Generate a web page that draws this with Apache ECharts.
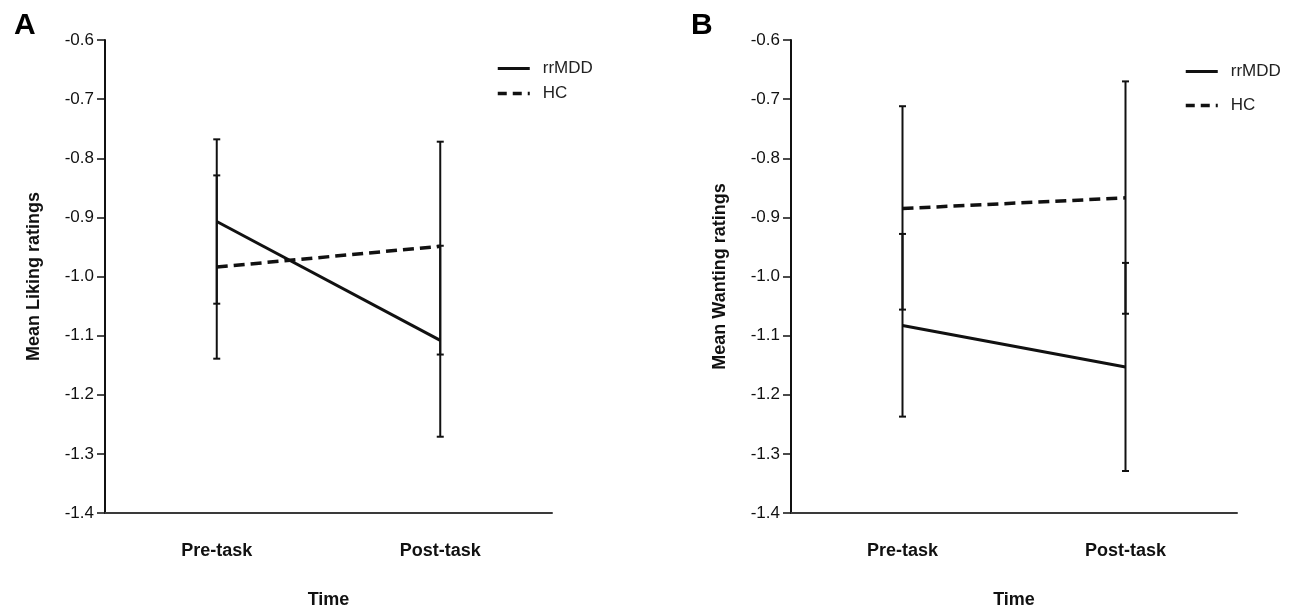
<!DOCTYPE html>
<html>
<head>
<meta charset="utf-8">
<script src="https://cdn.jsdelivr.net/npm/echarts@6/dist/echarts.min.js"></script>
<style>
html,body{margin:0;padding:0;background:#fff;}
#chart{width:1289px;height:614px;}
</style>
</head>
<body>
<div id="chart"></div>
<script>
const categories = ['Pre-task', 'Post-task'];
const groups = ['rrMDD', 'HC'];
const panelLetters = ['A', 'B'];
const yAxisNames = ['Mean Liking ratings', 'Mean Wanting ratings'];
const xAxisName = 'Time';

// Panel A: Liking
const likingRrMDD = [-0.907, -1.108];
const likingRrMDDLow = [-1.046, -1.271];
const likingRrMDDHigh = [-0.768, -0.948];
const likingHC = [-0.984, -0.949];
const likingHCLow = [-1.139, -1.132];
const likingHCHigh = [-0.829, -0.772];

// Panel B: Wanting
const wantingRrMDD = [-1.083, -1.153];
const wantingRrMDDLow = [-1.237, -1.329];
const wantingRrMDDHigh = [-0.928, -0.977];
const wantingHC = [-0.885, -0.867];
const wantingHCLow = [-1.056, -1.063];
const wantingHCHigh = [-0.712, -0.670];

const yMin = -1.4, yMax = -0.6, yStep = 0.1;

const FONT = '"Liberation Sans", Arial, Helvetica, sans-serif';
const INK = '#111';

function errData(low, high) {
  return categories.map((c, i) => [i, low[i], high[i]]);
}

function renderErr(params, api) {
  const x = api.value(0), lo = api.value(1), hi = api.value(2);
  const a = api.coord([x, hi]);
  const b = api.coord([x, lo]);
  const hw = 3.5;
  const st = { stroke: INK, lineWidth: 2 };
  return {
    type: 'group',
    children: [
      { type: 'line', shape: { x1: a[0], y1: a[1], x2: b[0], y2: b[1] }, style: st },
      { type: 'line', shape: { x1: a[0] - hw, y1: a[1], x2: a[0] + hw, y2: a[1] }, style: st },
      { type: 'line', shape: { x1: b[0] - hw, y1: b[1], x2: b[0] + hw, y2: b[1] }, style: st }
    ]
  };
}

const panels = [
  { left: 105, width: 447, rr: likingRrMDD, hc: likingHC,
    rrLo: likingRrMDDLow, rrHi: likingRrMDDHigh, hcLo: likingHCLow, hcHi: likingHCHigh },
  { left: 791, width: 446, rr: wantingRrMDD, hc: wantingHC,
    rrLo: wantingRrMDDLow, rrHi: wantingRrMDDHigh, hcLo: wantingHCLow, hcHi: wantingHCHigh }
];

const grid = [], xAxis = [], yAxis = [], series = [];
panels.forEach((p, k) => {
  grid.push({ left: p.left, top: 40, width: p.width, height: 478 });
  xAxis.push({
    type: 'category', gridIndex: k, data: categories, boundaryGap: true,
    axisLine: { lineStyle: { color: '#3a3a3a', width: 2 } },
    axisTick: { show: false },
    axisLabel: { color: INK, fontFamily: FONT, fontWeight: 'bold', fontSize: 18, margin: 29 },
    name: xAxisName, nameLocation: 'middle', nameGap: 78,
    nameTextStyle: { color: INK, fontFamily: FONT, fontWeight: 'bold', fontSize: 18 }
  });
  yAxis.push({
    type: 'value', gridIndex: k, min: yMin, max: yMax, interval: yStep,
    splitLine: { show: false },
    axisLine: { show: true, lineStyle: { color: INK, width: 2 } },
    axisTick: { show: true, length: 8, lineStyle: { color: INK, width: 1.5 } },
    axisLabel: { color: INK, fontFamily: FONT, fontSize: 17, margin: 11,
      formatter: v => v.toFixed(1) },
    name: yAxisNames[k], nameLocation: 'middle', nameGap: 62,
    nameTextStyle: { color: INK, fontFamily: FONT, fontWeight: 'bold', fontSize: 18 }
  });
  series.push({
    type: 'custom', name: 'err-rr-' + k, xAxisIndex: k, yAxisIndex: k,
    data: errData(p.rrLo, p.rrHi), renderItem: renderErr, encode: { x: 0, y: [1, 2] }, z: 1, silent: true
  });
  series.push({
    type: 'custom', name: 'err-hc-' + k, xAxisIndex: k, yAxisIndex: k,
    data: errData(p.hcLo, p.hcHi), renderItem: renderErr, encode: { x: 0, y: [1, 2] }, z: 1, silent: true
  });
  series.push({
    type: 'line', name: groups[0], xAxisIndex: k, yAxisIndex: k, data: p.rr,
    symbol: 'none', color: INK, z: 3,
    lineStyle: { color: INK, width: 3, type: 'solid' }
  });
  series.push({
    type: 'line', name: groups[1], xAxisIndex: k, yAxisIndex: k, data: p.hc,
    symbol: 'none', color: INK, z: 3,
    lineStyle: { color: INK, width: 3.5, type: [11, 6] }
  });
});

const legendText = { color: '#222', fontFamily: FONT, fontSize: 17, padding: [0, 0, 0, 8] };
function legendData() {
  return [
    { name: groups[0], lineStyle: { width: 3, type: 'solid', color: INK } },
    { name: groups[1], lineStyle: { width: 3.5, type: [9, 6], color: INK } }
  ];
}
const option = {
  animation: false,
  backgroundColor: '#fff',
  title: [
    { text: panelLetters[0], left: 9, top: 6, textStyle: { fontFamily: FONT, fontWeight: 'bold', fontSize: 30, color: '#000' } },
    { text: panelLetters[1], left: 686, top: 6, textStyle: { fontFamily: FONT, fontWeight: 'bold', fontSize: 30, color: '#000' } }
  ],
  legend: [
    { data: legendData(), orient: 'vertical', left: 496, top: 60, padding: 0, itemWidth: 32, itemHeight: 20,
      itemGap: 8, textStyle: legendText, itemStyle: { opacity: 0 }, selectedMode: false },
    { data: legendData(), orient: 'vertical', left: 1184, top: 63, padding: 0, itemWidth: 32, itemHeight: 20,
      itemGap: 17, textStyle: legendText, itemStyle: { opacity: 0 }, selectedMode: false }
  ],
  grid, xAxis, yAxis, series
};

const chart = echarts.init(document.getElementById('chart'), null, { renderer: 'canvas' });
chart.setOption(option);
</script>
</body>
</html>
